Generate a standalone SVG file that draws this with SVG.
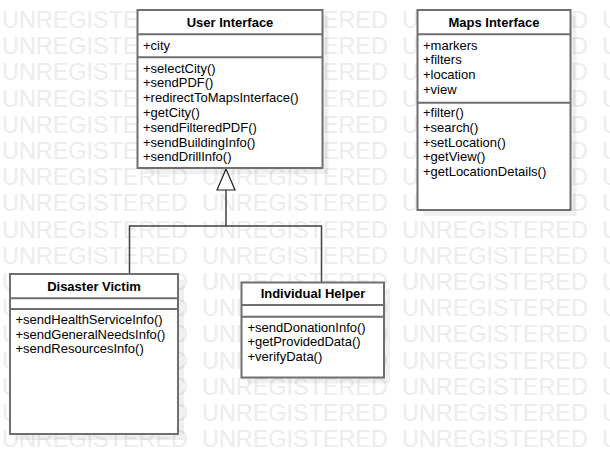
<svg xmlns="http://www.w3.org/2000/svg" width="610" height="474" viewBox="0 0 610 474">
<style>
.wm{font-family:"Liberation Sans",Arial,sans-serif;font-size:23.4px;fill:#ececec}
.box{fill:#fff;stroke:#6f6f6f;stroke-width:2}
.sep{stroke:#6f6f6f;stroke-width:2}
.sh{fill:#000;fill-opacity:0.06}
.t{font-family:"Liberation Sans",Arial,sans-serif;font-size:13px;font-weight:bold;fill:#000;text-anchor:middle}
.m{font-family:"Liberation Sans",Arial,sans-serif;font-size:13px;fill:#000}
.c{fill:none;stroke:#404040;stroke-width:1.5}
</style>
<rect width="610" height="474" fill="#fff"/>
<g id="watermark">
<text class="wm" y="28"><tspan x="2">UNREGISTERED</tspan><tspan x="202">UNREGISTERED</tspan><tspan x="402">UNREGISTERED</tspan><tspan x="602">UNREGISTERED</tspan></text>
<text class="wm" y="54.2"><tspan x="2">UNREGISTERED</tspan><tspan x="202">UNREGISTERED</tspan><tspan x="402">UNREGISTERED</tspan><tspan x="602">UNREGISTERED</tspan></text>
<text class="wm" y="80.4"><tspan x="2">UNREGISTERED</tspan><tspan x="202">UNREGISTERED</tspan><tspan x="402">UNREGISTERED</tspan><tspan x="602">UNREGISTERED</tspan></text>
<text class="wm" y="106.6"><tspan x="2">UNREGISTERED</tspan><tspan x="202">UNREGISTERED</tspan><tspan x="402">UNREGISTERED</tspan><tspan x="602">UNREGISTERED</tspan></text>
<text class="wm" y="132.8"><tspan x="2">UNREGISTERED</tspan><tspan x="202">UNREGISTERED</tspan><tspan x="402">UNREGISTERED</tspan><tspan x="602">UNREGISTERED</tspan></text>
<text class="wm" y="159"><tspan x="2">UNREGISTERED</tspan><tspan x="202">UNREGISTERED</tspan><tspan x="402">UNREGISTERED</tspan><tspan x="602">UNREGISTERED</tspan></text>
<text class="wm" y="185.2"><tspan x="2">UNREGISTERED</tspan><tspan x="202">UNREGISTERED</tspan><tspan x="402">UNREGISTERED</tspan><tspan x="602">UNREGISTERED</tspan></text>
<text class="wm" y="211.4"><tspan x="2">UNREGISTERED</tspan><tspan x="202">UNREGISTERED</tspan><tspan x="402">UNREGISTERED</tspan><tspan x="602">UNREGISTERED</tspan></text>
<text class="wm" y="237.6"><tspan x="2">UNREGISTERED</tspan><tspan x="202">UNREGISTERED</tspan><tspan x="402">UNREGISTERED</tspan><tspan x="602">UNREGISTERED</tspan></text>
<text class="wm" y="263.8"><tspan x="2">UNREGISTERED</tspan><tspan x="202">UNREGISTERED</tspan><tspan x="402">UNREGISTERED</tspan><tspan x="602">UNREGISTERED</tspan></text>
<text class="wm" y="290"><tspan x="2">UNREGISTERED</tspan><tspan x="202">UNREGISTERED</tspan><tspan x="402">UNREGISTERED</tspan><tspan x="602">UNREGISTERED</tspan></text>
<text class="wm" y="316.2"><tspan x="2">UNREGISTERED</tspan><tspan x="202">UNREGISTERED</tspan><tspan x="402">UNREGISTERED</tspan><tspan x="602">UNREGISTERED</tspan></text>
<text class="wm" y="342.4"><tspan x="2">UNREGISTERED</tspan><tspan x="202">UNREGISTERED</tspan><tspan x="402">UNREGISTERED</tspan><tspan x="602">UNREGISTERED</tspan></text>
<text class="wm" y="368.6"><tspan x="2">UNREGISTERED</tspan><tspan x="202">UNREGISTERED</tspan><tspan x="402">UNREGISTERED</tspan><tspan x="602">UNREGISTERED</tspan></text>
<text class="wm" y="394.8"><tspan x="2">UNREGISTERED</tspan><tspan x="202">UNREGISTERED</tspan><tspan x="402">UNREGISTERED</tspan><tspan x="602">UNREGISTERED</tspan></text>
<text class="wm" y="421"><tspan x="2">UNREGISTERED</tspan><tspan x="202">UNREGISTERED</tspan><tspan x="402">UNREGISTERED</tspan><tspan x="602">UNREGISTERED</tspan></text>
<text class="wm" y="447.2"><tspan x="2">UNREGISTERED</tspan><tspan x="202">UNREGISTERED</tspan><tspan x="402">UNREGISTERED</tspan><tspan x="602">UNREGISTERED</tspan></text>
</g>
<g id="connectors">
<polyline class="c" points="129.5,274 129.5,226 321.5,226 321.5,282"/>
<line class="c" x1="226" y1="226" x2="226" y2="190"/>
<polygon points="226,169 217,190 235,190" fill="#fff" stroke="#202020" stroke-width="1.2"/>
</g>
<g id="user-interface">
<rect class="sh" x="143.5" y="16" width="185" height="158"/>
<rect class="box" x="137.5" y="10" width="185" height="158"/>
<line class="sep" x1="137.5" y1="34.3" x2="322.5" y2="34.3"/>
<line class="sep" x1="137.5" y1="57.3" x2="322.5" y2="57.3"/>
<text class="t" x="230" y="27">User Interface</text>
<text class="m" x="143" y="50">+city</text>
<text class="m" x="143" y="72.5">+selectCity()</text>
<text class="m" x="143" y="87.3">+sendPDF()</text>
<text class="m" x="143" y="102.1">+redirectToMapsInterface()</text>
<text class="m" x="143" y="116.9">+getCity()</text>
<text class="m" x="143" y="131.7">+sendFilteredPDF()</text>
<text class="m" x="143" y="146.5">+sendBuildingInfo()</text>
<text class="m" x="143" y="161.3">+sendDrillInfo()</text>
</g>
<g id="maps-interface">
<rect class="sh" x="423.5" y="16" width="153" height="200"/>
<rect class="box" x="417.5" y="10" width="153" height="200"/>
<line class="sep" x1="417.5" y1="34.3" x2="570.5" y2="34.3"/>
<line class="sep" x1="417.5" y1="102.7" x2="570.5" y2="102.7"/>
<text class="t" x="494" y="26.7">Maps Interface</text>
<text class="m" x="423" y="49.5">+markers</text>
<text class="m" x="423" y="64.2">+filters</text>
<text class="m" x="423" y="78.9">+location</text>
<text class="m" x="423" y="93.6">+view</text>
<text class="m" x="423" y="117.3">+filter()</text>
<text class="m" x="423" y="132">+search()</text>
<text class="m" x="423" y="146.7">+setLocation()</text>
<text class="m" x="423" y="161.4">+getView()</text>
<text class="m" x="423" y="176.1">+getLocationDetails()</text>
</g>
<g id="disaster-victim">
<rect class="sh" x="16" y="280" width="168" height="160"/>
<rect class="box" x="10" y="274" width="168" height="160"/>
<line class="sep" x1="10" y1="298.3" x2="178" y2="298.3"/>
<line class="sep" x1="10" y1="309" x2="178" y2="309"/>
<text class="t" x="94" y="290.7">Disaster Victim</text>
<text class="m" x="15.5" y="324">+sendHealthServiceInfo()</text>
<text class="m" x="15.5" y="338.7">+sendGeneralNeedsInfo()</text>
<text class="m" x="15.5" y="353.4">+sendResourcesInfo()</text>
</g>
<g id="individual-helper">
<rect class="sh" x="247.5" y="288.5" width="142.5" height="95"/>
<rect class="box" x="241.5" y="282.5" width="142.5" height="95"/>
<line class="sep" x1="241.5" y1="305" x2="384" y2="305"/>
<line class="sep" x1="241.5" y1="316.7" x2="384" y2="316.7"/>
<text class="t" x="313" y="297.5">Individual Helper</text>
<text class="m" x="247.5" y="331.5">+sendDonationInfo()</text>
<text class="m" x="247.5" y="346.2">+getProvidedData()</text>
<text class="m" x="247.5" y="360.9">+verifyData()</text>
</g>
</svg>
